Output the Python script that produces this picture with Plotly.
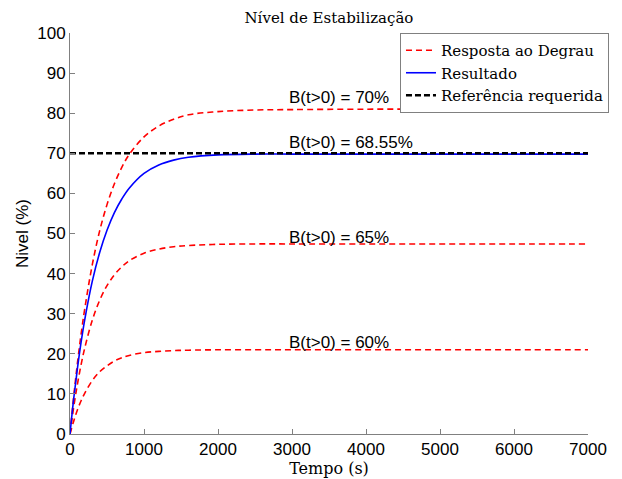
import plotly.graph_objects as go

# Time samples (s)
tempo = [0, 50, 100, 150, 200, 300, 400, 500, 600, 700, 800, 1000, 1200, 1400, 1600, 2000, 2500, 3000, 4000, 5000, 6000, 7000]

# Step responses (red dashed)
degrau_70 = [0, 9.3, 17.6, 24.9, 31.3, 42.1, 50.6, 57.2, 62.4, 66.5, 69.7, 74.1, 76.8, 78.5, 79.6, 80.4, 80.8, 80.9, 81.0, 81.0, 81.0, 81.0]
degrau_65 = [0, 6.7, 12.4, 17.3, 21.5, 28.3, 33.3, 37.0, 39.7, 41.7, 43.2, 45.1, 46.1, 46.7, 47.0, 47.3, 47.4, 47.4, 47.4, 47.4, 47.4, 47.4]
degrau_60 = [0, 3.2, 6.0, 8.3, 10.2, 13.3, 15.5, 17.0, 18.2, 19.0, 19.6, 20.3, 20.6, 20.8, 20.9, 21.0, 21.0, 21.0, 21.0, 21.0, 21.0, 21.0]

# Result (blue)
resultado = [0, 8.8, 16.3, 22.9, 28.6, 38.0, 45.2, 50.8, 55.2, 58.6, 61.3, 65.0, 67.1, 68.3, 69.0, 69.6, 69.8, 69.8, 69.8, 69.8, 69.8, 69.8]

# Required reference
ref_x = [0, 7000]
ref_y = [70, 70]

# Annotations
rotulos = ["B(t>0) = 70%", "B(t>0) = 68.55%", "B(t>0) = 65%", "B(t>0) = 60%"]
rotulos_x = [2930, 2930, 2930, 2930]
rotulos_y = [83.8, 72.8, 48.9, 22.8]

serif = "DejaVu Serif"
sans = "Liberation Sans"

fig = go.Figure()
for i, ys in enumerate([degrau_70, degrau_65, degrau_60]):
    fig.add_trace(go.Scatter(
        x=tempo, y=ys, mode="lines", line_shape="spline",
        line=dict(color="#FF0000", width=1.6, dash="6px,4px"),
        name="Resposta ao Degrau", showlegend=(i == 0), legendgroup="deg"))
fig.add_trace(go.Scatter(
    x=tempo, y=resultado, mode="lines", line_shape="spline",
    line=dict(color="#0000FF", width=1.6), name="Resultado"))
fig.add_trace(go.Scatter(
    x=ref_x, y=ref_y, mode="lines",
    line=dict(color="#000000", width=2.4, dash="6px,3px"), name="Referência requerida"))

for t, xx, yy in zip(rotulos, rotulos_x, rotulos_y):
    fig.add_annotation(x=xx, y=yy, text=t, showarrow=False, xanchor="left", yanchor="middle",
                       font=dict(family=sans, size=17, color="black"))

axis_common = dict(showline=True, linecolor="#808080", linewidth=1, mirror=False,
                   ticks="inside", ticklen=5, tickcolor="#808080", showgrid=False, zeroline=False,
                   automargin=False,
                   tickfont=dict(family=sans, size=17, color="black"))

fig.update_layout(
    width=622, height=479,
    margin=dict(l=62, r=42, t=25, b=53),
    paper_bgcolor="white", plot_bgcolor="white",
    font=dict(family=serif, color="black"),
    title=dict(text="Nível de Estabilização", x=0.516, xanchor="center", xref="container",
               y=0.99, yanchor="top", yref="container",
               font=dict(family=serif, size=15, color="black")),
    xaxis=dict(range=[0, 7000], tickvals=[0, 1000, 2000, 3000, 4000, 5000, 6000, 7000],
               title=dict(text="Tempo (s)", font=dict(family=serif, size=16, color="black"), standoff=2),
               **axis_common),
    yaxis=dict(range=[0, 100], tickvals=[0, 10, 20, 30, 40, 50, 60, 70, 80, 90, 100],
               title=dict(text="Nivel (%)", font=dict(family=sans, size=17, color="black"), standoff=4),
               **axis_common),
    legend=dict(x=1.0405, xanchor="right", y=1.0, yanchor="top", bgcolor="white",
                bordercolor="#808080", borderwidth=1, font=dict(family=serif, size=15, color="black"),
                tracegroupgap=0, itemwidth=30),
    showlegend=True,
)

fig.write_html("out.html")
